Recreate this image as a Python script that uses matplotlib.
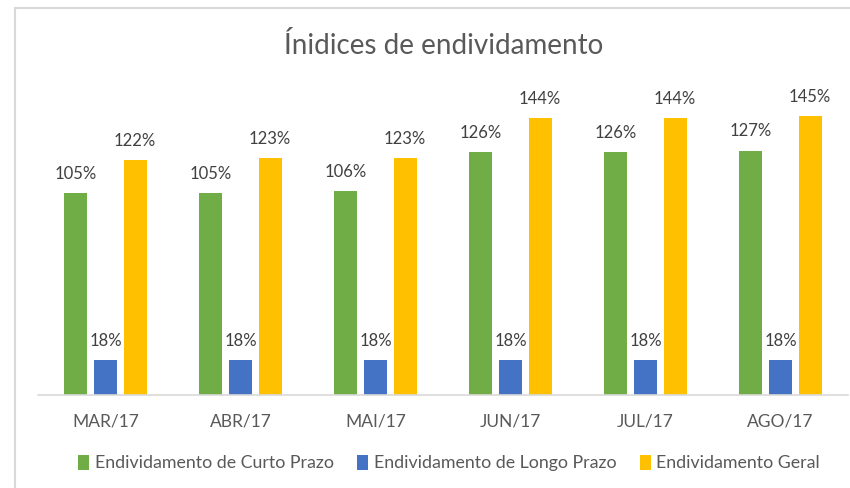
import matplotlib
matplotlib.use("Agg")

import matplotlib.pyplot as plt
import numpy as np
from matplotlib.patches import Rectangle

# data
categories = ["MAR/17", "ABR/17", "MAI/17", "JUN/17", "JUL/17", "AGO/17"]
series_names = ["Endividamento de Curto Prazo", "Endividamento de Longo Prazo",
                "Endividamento Geral"]
curto = [105, 105, 106, 126, 126, 127]
longo = [18, 18, 18, 18, 18, 18]
geral = [122, 123, 123, 144, 144, 145]

COLORS = ["#70AD47", "#4472C4", "#FFC000"]
TXT = "#404040"
GRID = "#d9d9d9"

plt.rcParams["font.family"] = ["Lato", "DejaVu Sans"]

W, H = 850, 488
fig = plt.figure(figsize=(W / 100, H / 100), dpi=100)
ax = fig.add_axes([38 / W, 1 - 395 / H, 810 / W, (395 - 87) / H])

x = np.arange(len(categories))
width = 0.17
step = 0.22
for i, (vals, name, col) in enumerate(zip([curto, longo, geral], series_names, COLORS)):
    bars = ax.bar(x + (i - 1) * step, vals, width, color=col, label=name, zorder=2)
    for b, v in zip(bars, vals):
        ax.annotate(f"{v}%", (b.get_x() + b.get_width() / 2, v), xytext=(0, 8),
                    textcoords="offset points", ha="center", va="bottom",
                    fontsize=12, color=TXT)

ax.set_xlim(-0.5, len(categories) - 0.5)
ax.set_ylim(0, 160)
ax.set_yticks([])
ax.set_xticks(x)
ax.set_xticklabels(categories, fontsize=12.5, color="#595959")
ax.tick_params(axis="x", length=0, pad=13)
for s in ["left", "right", "top"]:
    ax.spines[s].set_visible(False)
ax.spines["bottom"].set_color(GRID)
ax.spines["bottom"].set_linewidth(1.2)
ax.set_facecolor("none")

fig.text(0.5 * (283 + 605) / W, 1 - 45 / H, "Ínidices de endividamento",
         ha="center", va="center", fontsize=20, color="#595959")

leg = fig.legend(loc="center", bbox_to_anchor=(449 / W, 1 - 463 / H), ncol=3,
                 frameon=False, fontsize=12.8, handlelength=0.65, handleheight=0.9,
                 handletextpad=0.3, columnspacing=1.3, labelcolor="#595959")

# chart frame, cut off at right and bottom like the screenshot
fig.patches.append(Rectangle((15 / W, -0.1), 1.0, 1.1 - 8 / H, transform=fig.transFigure,
                             fill=False, edgecolor=GRID, linewidth=1.5, clip_on=False))
# cropped descender of text above the chart, as in the screenshot
fig.text(402 / W, 1 + 9 / H, "p", ha="center", va="center", fontsize=12,
         family="DejaVu Serif", color="#333333")

fig.savefig("out.png", dpi=100)
